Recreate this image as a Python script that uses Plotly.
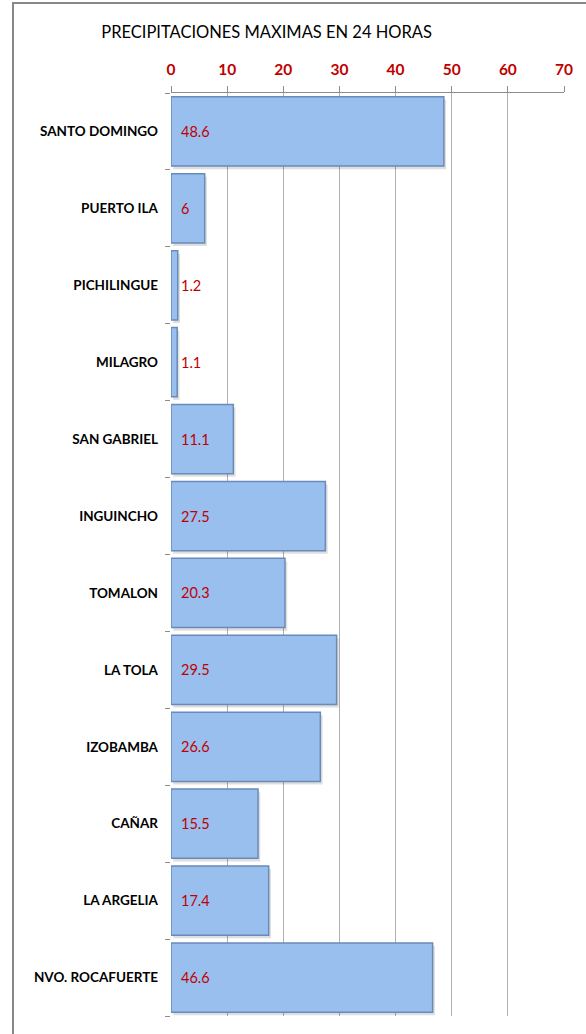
import plotly.graph_objects as go

estaciones = ['SANTO DOMINGO', 'PUERTO ILA', 'PICHILINGUE', 'MILAGRO', 'SAN GABRIEL',
              'INGUINCHO', 'TOMALON', 'LA TOLA', 'IZOBAMBA', 'CAÑAR', 'LA ARGELIA',
              'NVO. ROCAFUERTE']
precip = [48.6, 6, 1.2, 1.1, 11.1, 27.5, 20.3, 29.5, 26.6, 15.5, 17.4, 46.6]
x_ticks = [0, 10, 20, 30, 40, 50, 60, 70]

FONT = 'Lato, Roboto, Arial, sans-serif'
ROJO = '#C00000'

fig = go.Figure()
# sombra suave detras de las barras
fig.add_trace(go.Bar(
    x=precip, y=estaciones, orientation='h', base=0.4,
    width=0.9, offset=-0.41,
    marker=dict(color='rgba(0,0,0,0.13)', line=dict(width=0)),
    hoverinfo='skip'
))
fig.add_trace(go.Bar(
    x=precip, y=estaciones, orientation='h',
    width=0.9, offset=-0.45,
    marker=dict(color='#99BFEF', line=dict(color='#6A8BB8', width=1.5)),
    hoverinfo='x+y'
))

# etiquetas de valor al inicio de cada barra
for est, v in zip(estaciones, precip):
    fig.add_annotation(
        x=0, y=est, text=f'{v:g}', showarrow=False,
        xanchor='left', xshift=8,
        font=dict(family=FONT, size=14.5, color=ROJO)
    )

fig.update_layout(
    width=586, height=1034,
    margin=dict(l=171, r=22, t=93, b=18),
    paper_bgcolor='white', plot_bgcolor='white',
    barmode='overlay',
    showlegend=False,
    title=dict(
        text='PRECIPITACIONES MAXIMAS EN 24 HORAS',
        x=0.455, xanchor='center', y=0.969, yanchor='middle',
        font=dict(family=FONT, size=16.5, color='black')
    ),
    shapes=[dict(
        type='rect', xref='paper', yref='paper',
        x0=-0.402, x1=1.2, y0=-0.05, y1=1.0975,
        line=dict(color='#888888', width=2), layer='below'
    )]
)

fig.update_xaxes(
    side='top', range=[0, 70], tickvals=x_ticks,
    ticktext=[f'<b>{t}</b>' for t in x_ticks],
    showgrid=True, gridcolor='#B0B0B0', gridwidth=1,
    showline=True, linecolor='#8C8C8C', linewidth=1,
    ticks='outside', ticklen=6, tickcolor='#8C8C8C',
    tickfont=dict(family=FONT, size=15.5, color=ROJO),
    ticklabelstandoff=5,
    zeroline=False
)
fig.update_yaxes(
    autorange='reversed', tickson='boundaries',
    tickvals=estaciones, ticktext=[f'<b>{e}</b>' for e in estaciones],
    ticks='outside', ticklen=5, tickcolor='#8C8C8C',
    showline=False,
    tickfont=dict(family=FONT, size=13.5, color='black'),
    ticklabelstandoff=12
)

fig.write_html('out.html', config={'displayModeBar': False},
               post_script="document.body.style.margin='0';")
